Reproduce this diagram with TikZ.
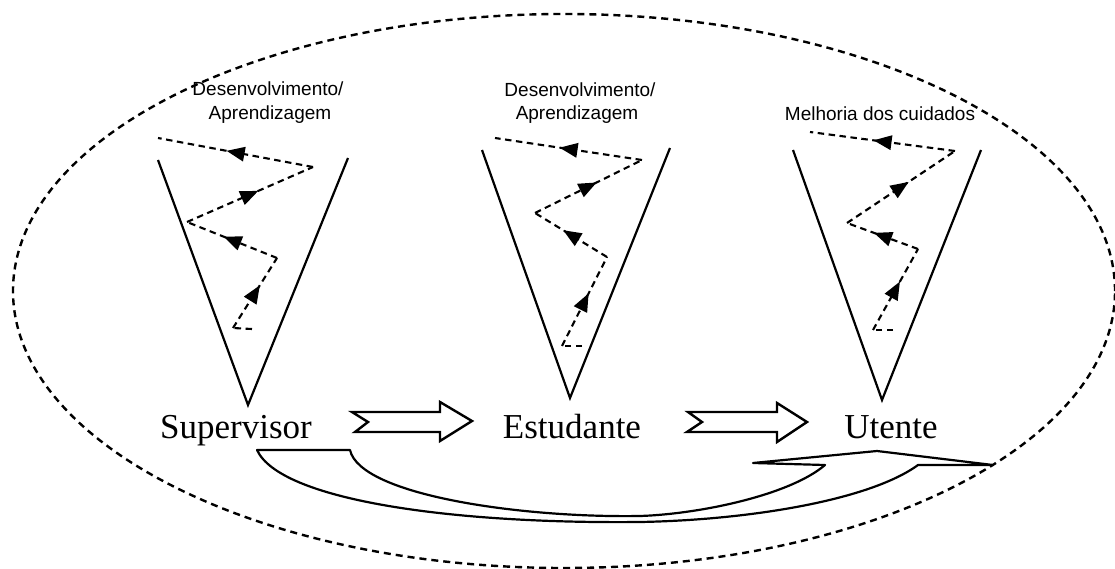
\documentclass[tikz,border=0pt]{standalone}
\usepackage{fontspec}
\setmainfont{Liberation Serif}
\newfontfamily\labelfont{Liberation Sans}
\usetikzlibrary{decorations.markings}
\begin{document}
\begin{tikzpicture}[x=1pt,y=-1pt,
  tri/.style={line width=2.2pt, line join=miter},
  zigseg/.style={line width=2.1pt, dash pattern=on 6.5pt off 4.5pt},
  zigarr/.style={zigseg, postaction={decorate},
    decoration={markings, mark=at position 0.5 with {\fill[solid] (9pt,0pt) -- (-9pt,7.5pt) -- (-9pt,-7.5pt) -- cycle;}}},
  blockarrow/.style={line width=2.4pt, line join=miter, fill=white},
  returnarrow/.style={line width=2.2pt, line join=round, fill=white},
  outline/.style={line width=2.4pt, dash pattern=on 7pt off 5pt},
  lab/.style={font=\labelfont\fontsize{19}{22}\selectfont, inner sep=0pt, anchor=base},
  big/.style={font=\fontsize{35}{40}\selectfont, inner sep=0pt, anchor=base},
]
\useasboundingbox (0,0) rectangle (1115,569);

% outer dashed ellipse
\draw[outline] (564,291) ellipse [x radius=551pt, y radius=277pt];

% curved return arrow
\draw[returnarrow] (257,450) -- (350,450)
  .. controls (360,495) and (520,518) .. (640,516)
  .. controls (700,514) and (790,495) .. (825,465)
  -- (753,463) -- (877,451) -- (993,465) -- (918,465)
  .. controls (870,500) and (750,520) .. (640,522)
  .. controls (450,524) and (280,500) .. (257,450) -- cycle;

% triangles
\draw[tri] (158,160) -- (248,405) -- (348,158);
\draw[tri] (482,150) -- (570,398) -- (670,148);
\draw[tri] (793,150) -- (882,400) -- (981,150);

% zigzag 1
\coordinate (a0) at (252,329); \coordinate (a1) at (233,328);
\coordinate (a2) at (277,258); \coordinate (a3) at (187,222);
\coordinate (a4) at (313,167); \coordinate (a5) at (158,138);
\draw[zigseg] (a0) -- (a1);
\draw[zigarr] (a1) -- (a2);
\draw[zigarr] (a2) -- (a3);
\draw[zigarr] (a3) -- (a4);
\draw[zigarr] (a4) -- (a5);

% zigzag 2
\coordinate (b0) at (582,346); \coordinate (b1) at (562,346);
\coordinate (b2) at (607,257); \coordinate (b3) at (535,213);
\coordinate (b4) at (642,160); \coordinate (b5) at (495,138);
\draw[zigseg] (b0) -- (b1);
\draw[zigarr] (b1) -- (b2);
\draw[zigarr] (b2) -- (b3);
\draw[zigarr] (b3) -- (b4);
\draw[zigarr] (b4) -- (b5);

% zigzag 3
\coordinate (c0) at (893,330); \coordinate (c1) at (873,330);
\coordinate (c2) at (918,249); \coordinate (c3) at (847,223);
\coordinate (c4) at (955,151); \coordinate (c5) at (810,132);
\draw[zigseg] (c0) -- (c1);
\draw[zigarr] (c1) -- (c2);
\draw[zigarr] (c2) -- (c3);
\draw[zigarr] (c3) -- (c4);
\draw[zigarr] (c4) -- (c5);

% block arrows
\draw[blockarrow] (352,412) -- (368,422) -- (355,432) -- (440,432) -- (440,441)
  -- (472,421) -- (440,402) -- (440,412) -- cycle;
\draw[blockarrow] (688,412) -- (702,422) -- (687,432) -- (777,432) -- (777,442)
  -- (807,422) -- (777,403) -- (777,412) -- cycle;

% labels
\node[lab] (d1) at (268,96) {Desenvolvimento/};
\node[lab] (p1) at (270,120) {Aprendizagem};
\node[lab] (d2) at (580,97) {Desenvolvimento/};
\node[lab] (p2) at (577,120) {Aprendizagem};
\node[lab] (m3) at (880,121) {Melhoria dos cuidados};

\node[big] (sup) at (236,438) {Supervisor};
\node[big] (est) at (572,438) {Estudante};
\node[big] (ute) at (891,438) {Utente};
\end{tikzpicture}
\end{document}
